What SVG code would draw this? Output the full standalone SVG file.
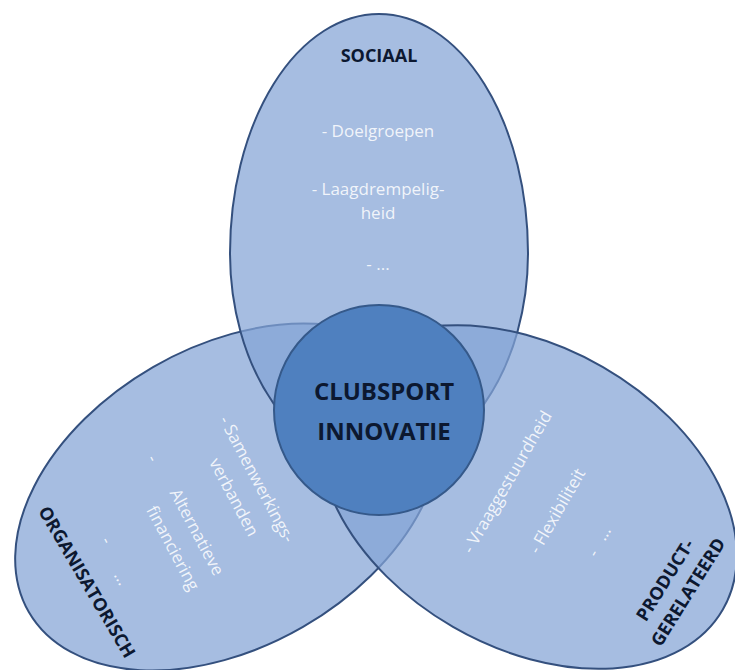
<svg xmlns="http://www.w3.org/2000/svg" width="735" height="670" viewBox="0 0 735 670">
  <style>
    .petal { fill: rgb(132,163,214); fill-opacity: 0.72; stroke: #34507e; stroke-width: 2; }
    .core { fill: #4f80bf; stroke: #35598a; stroke-width: 2; }
    .title { font-family: "Open Sans", "Liberation Sans", sans-serif; font-weight: bold; font-size: 18px; fill: #0c1830; }
    .core-text { font-family: "Open Sans", "Liberation Sans", sans-serif; font-weight: bold; font-size: 24px; fill: #0c1830; text-anchor: middle; }
    .item { font-family: "Open Sans", "Liberation Sans", sans-serif; font-size: 17px; fill: #ffffff; fill-opacity: 0.85; text-anchor: middle; }
  </style>
  <rect width="735" height="670" fill="#ffffff"/>

  <!-- left petal: organisational -->
  <g id="organisatorisch">
    <ellipse class="petal" cx="0" cy="0" rx="230" ry="150" transform="translate(228 497) rotate(-30)"/>
  </g>

  <!-- top petal: social -->
  <g id="sociaal">
    <path class="petal" d="M 230 253 A 149 239 0 0 1 528 253 A 149 213 0 0 1 230 253 Z"/>
  </g>

  <!-- right petal: product related -->
  <g id="productgerelateerd">
    <ellipse class="petal" cx="0" cy="0" rx="225" ry="150" transform="translate(528 497) rotate(30)"/>
  </g>

  <!-- centre -->
  <g id="clubsport-innovatie">
    <circle class="core" cx="379" cy="410" r="105"/>
    <text class="core-text" x="384" y="400">CLUBSPORT</text>
    <text class="core-text" x="384" y="440">INNOVATIE</text>
  </g>

  <!-- labels of the top petal -->
  <g id="sociaal-labels">
    <text class="title" x="379" y="62" text-anchor="middle">SOCIAAL</text>
    <text class="item" x="378" y="137">- Doelgroepen</text>
    <text class="item" x="378" y="195">- Laagdrempelig-</text>
    <text class="item" x="378" y="219">heid</text>
    <text class="item" x="378" y="270" font-size="13">- ...</text>
  </g>

  <!-- labels of the left petal -->
  <g id="organisatorisch-labels">
    <text class="title" text-anchor="middle" dy="0.35em" transform="translate(87 582) rotate(59.5)">ORGANISATORISCH</text>
    <text class="item" dy="0.35em" transform="translate(257 479) rotate(62)">- Samenwerkings-</text>
    <text class="item" dy="0.35em" transform="translate(234 497) rotate(62)">verbanden</text>
    <text class="item" dy="0.35em" transform="translate(153 458) rotate(62)">-</text>
    <text class="item" dy="0.35em" transform="translate(197 532) rotate(62)">Alternatieve</text>
    <text class="item" dy="0.35em" transform="translate(173 548) rotate(62)">financiering</text>
    <text class="item" dy="0.35em" transform="translate(107 540) rotate(62)">-</text>
    <text class="item" dy="0.35em" transform="translate(122 578) rotate(62)">...</text>
  </g>

  <!-- labels of the right petal -->
  <g id="productgerelateerd-labels">
    <text class="title" text-anchor="middle" dy="0.35em" transform="translate(665 580) rotate(-58)">PRODUCT-</text>
    <text class="title" text-anchor="middle" dy="0.35em" transform="translate(688 592) rotate(-58)">GERELATEERD</text>
    <text class="item" dy="0.35em" transform="translate(507 482) rotate(-60)">- Vraaggestuurdheid</text>
    <text class="item" dy="0.35em" transform="translate(557 511) rotate(-60)">- Flexibiliteit</text>
    <text class="item" dy="0.35em" transform="translate(593 553) rotate(-60)">-</text>
    <text class="item" dy="0.35em" transform="translate(603 533) rotate(-60)">...</text>
  </g>
</svg>
